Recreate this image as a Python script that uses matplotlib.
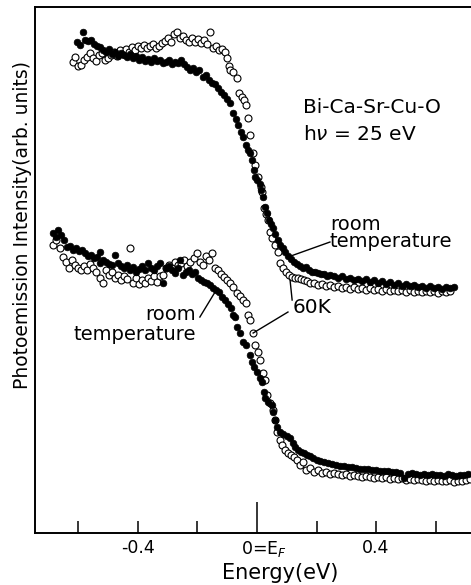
import matplotlib
matplotlib.use('Agg')
import matplotlib.pyplot as plt
from matplotlib.transforms import ScaledTranslation

# energies in eV, intensity in arbitrary units
rt_hi_E = [-0.605, -0.595, -0.585, -0.578, -0.568, -0.558, -0.548, -0.538, -0.528, -0.517,
           -0.507, -0.497, -0.487, -0.477, -0.467, -0.457, -0.447, -0.437, -0.427, -0.417,
           -0.407, -0.396, -0.386, -0.376, -0.366, -0.356, -0.346, -0.336, -0.326, -0.316,
           -0.306, -0.296, -0.286, -0.276, -0.265, -0.255, -0.245, -0.235, -0.225, -0.215,
           -0.205, -0.195, -0.181, -0.171, -0.161, -0.151, -0.141, -0.131, -0.121, -0.111,
           -0.101, -0.091, -0.081, -0.071, -0.064, -0.054, -0.047, -0.037, -0.030, -0.024,
           -0.017, -0.010, -0.007, 0.000, 0.010, 0.013, 0.020, 0.027, 0.034, 0.040,
           0.047, 0.054, 0.060, 0.071, 0.077, 0.087, 0.094, 0.104, 0.114, 0.124,
           0.134, 0.144, 0.155, 0.165, 0.175, 0.185, 0.195, 0.205, 0.215, 0.225,
           0.235, 0.245,
           0.259, 0.272, 0.286, 0.299, 0.312, 0.326, 0.339, 0.353, 0.366, 0.380,
           0.393, 0.407, 0.420, 0.433, 0.447, 0.460, 0.474, 0.487, 0.501, 0.514,
           0.528, 0.541, 0.554, 0.568, 0.581, 0.595, 0.608, 0.622, 0.635, 0.648, 0.662]
rt_hi_I = [98.2, 97.6, 100.2, 98.6, 98.4, 98.6, 97.8, 97.4, 97.2, 96.6,
           96.2, 96.8, 95.8, 96.2, 95.4, 96.0, 95.6, 95.2, 95.8, 95.0,
           95.4, 94.6, 95.2, 94.4, 94.8, 94.2, 95.0, 94.4, 94.6, 94.0,
           94.2, 94.6, 93.8, 94.2, 94.0, 94.6, 93.8, 93.2, 92.6, 93.0,
           92.2, 92.6, 91.2, 91.6, 90.6, 90.0, 89.8, 89.0, 88.2, 87.6,
           86.8, 86.0, 84.0, 82.8, 81.6, 80.2, 79.2, 77.6, 76.6, 76.0,
           74.6, 72.6, 71.2, 70.6, 69.8, 68.6, 67.2, 65.2, 64.0, 62.6,
           61.8, 61.0, 59.8, 58.6, 57.6, 57.0, 56.2, 55.4, 54.8, 54.2,
           53.8, 53.4, 53.0, 53.2, 52.6, 52.2, 52.2, 52.0, 51.8, 51.8,
           51.4, 51.6,
           51.4, 51.0, 51.4, 50.8, 51.0, 50.6, 50.9, 50.4, 50.8, 50.3,
           50.6, 50.0, 50.4, 49.9, 50.2, 49.7, 50.1, 49.5, 49.9, 49.4,
           49.7, 49.2, 49.5, 49.0, 49.4, 49.1, 49.3, 48.9, 49.2, 49.0, 49.3]

k60_hi_E = [-0.618, -0.612, -0.601, -0.591, -0.581, -0.571, -0.561, -0.551, -0.541, -0.531,
            -0.521, -0.511, -0.501, -0.491, -0.480, -0.470, -0.460, -0.450, -0.440, -0.430,
            -0.420, -0.410, -0.400, -0.390, -0.380, -0.370, -0.360, -0.349, -0.339, -0.329,
            -0.319, -0.309, -0.299, -0.289, -0.279, -0.269, -0.259, -0.249, -0.239, -0.228,
            -0.218, -0.208, -0.198, -0.188, -0.178, -0.168, -0.158, -0.148, -0.138, -0.128,
            -0.118, -0.108, -0.101, -0.094, -0.091, -0.081, -0.067, -0.060, -0.050, -0.044,
            -0.037, -0.030, -0.024, -0.013, -0.007, 0.003, 0.013, 0.017, 0.024, 0.030,
            0.037, 0.044, 0.050, 0.060, 0.071, 0.077, 0.087, 0.097, 0.108, 0.118,
            0.128, 0.138, 0.148, 0.158, 0.168, 0.178,
            0.192, 0.205, 0.218, 0.232, 0.245, 0.259, 0.272, 0.286, 0.299, 0.312,
            0.326, 0.339, 0.353, 0.366, 0.380, 0.393, 0.407, 0.420, 0.433, 0.447,
            0.460, 0.474, 0.487, 0.501, 0.514, 0.528, 0.541, 0.554, 0.568, 0.581,
            0.595, 0.608, 0.622, 0.635, 0.648]
k60_hi_I = [94.2, 95.2, 93.4, 93.6, 94.6, 95.2, 96.0, 95.0, 94.4, 95.6,
            96.0, 94.6, 95.0, 95.6, 96.2, 95.4, 96.6, 95.8, 96.8, 96.2,
            97.2, 96.6, 97.4, 97.0, 97.6, 97.0, 97.4, 97.8, 97.0, 97.4,
            98.0, 98.4, 99.0, 98.2, 99.8, 100.2, 99.0, 99.4, 98.6, 98.2,
            99.0, 98.2, 98.8, 98.0, 98.6, 97.8, 100.2, 97.0, 97.4, 96.6,
            96.8, 96.2, 95.0, 93.4, 92.6, 92.2, 91.0, 88.0, 87.2, 86.6,
            85.6, 83.0, 79.6, 76.0, 73.6, 71.2, 69.2, 68.2, 65.0, 63.8,
            62.6, 60.2, 59.0, 57.6, 56.2, 54.0, 53.0, 52.2, 51.6, 51.2,
            51.0, 51.0, 50.8, 50.6, 50.4, 50.0,
            50.0, 49.6, 49.9, 49.4, 49.7, 49.2, 49.5, 49.0, 49.3, 48.9,
            49.2, 48.8, 49.1, 48.7, 49.0, 48.6, 48.9, 48.5, 48.8, 48.4,
            48.7, 48.4, 48.6, 48.2, 48.6, 48.3, 48.5, 48.2, 48.5, 48.3,
            48.4, 48.1, 48.5, 48.3, 48.4]

rt_lo_E = [-0.685, -0.675, -0.669, -0.659, -0.648, -0.638, -0.628, -0.618, -0.608, -0.598,
           -0.588, -0.578, -0.568, -0.558, -0.548, -0.538, -0.528, -0.528, -0.517, -0.507,
           -0.497, -0.487, -0.477, -0.467, -0.457, -0.447, -0.437, -0.427, -0.417, -0.407,
           -0.396, -0.386, -0.376, -0.366, -0.356, -0.346, -0.336, -0.326, -0.316, -0.306,
           -0.296, -0.286, -0.276, -0.265, -0.259, -0.249, -0.239, -0.228, -0.218, -0.208,
           -0.198, -0.188, -0.178, -0.168, -0.158, -0.148, -0.138, -0.128, -0.118, -0.108,
           -0.097, -0.087, -0.081, -0.074, -0.067, -0.057, -0.047, -0.037, -0.024, -0.017,
           -0.010, 0.000, 0.010, 0.017, 0.024, 0.027, 0.037, 0.050, 0.054, 0.060,
           0.067, 0.077, 0.087, 0.101, 0.111, 0.121, 0.128, 0.138, 0.148, 0.158,
           0.168, 0.178, 0.188, 0.202, 0.212,
           0.225, 0.239, 0.252, 0.265, 0.279, 0.292, 0.306, 0.319, 0.333, 0.346,
           0.360, 0.373, 0.386, 0.400, 0.413, 0.427, 0.440, 0.454, 0.467, 0.481,
           0.494, 0.507, 0.521, 0.534, 0.548, 0.561, 0.575, 0.588, 0.601, 0.615,
           0.628, 0.642, 0.655, 0.669, 0.682, 0.696, 0.709]
rt_lo_I = [60.0, 59.2, 60.6, 59.6, 58.6, 57.2, 57.4, 56.6, 57.0, 56.4,
           56.6, 56.0, 55.4, 55.6, 55.0, 55.2, 56.2, 54.0, 54.6, 54.2,
           53.8, 53.6, 55.6, 54.0, 53.4, 53.0, 53.6, 52.6, 53.2, 52.2,
           52.8, 53.4, 52.6, 54.0, 53.0, 52.6, 53.4, 54.0, 50.0, 53.0,
           53.4, 52.6, 52.0, 53.0, 54.6, 51.6, 52.2, 52.6, 51.8, 52.2,
           51.0, 50.6, 50.2, 50.0, 49.6, 49.0, 48.6, 48.2, 47.2, 46.6,
           45.8, 45.0, 43.6, 43.2, 41.2, 40.0, 38.2, 37.6, 35.6, 34.2,
           33.2, 32.2, 31.0, 30.2, 28.2, 27.0, 26.2, 25.6, 24.2, 22.6,
           21.2, 20.2, 19.8, 19.4, 19.0, 18.0, 17.2, 16.6, 16.2, 16.0,
           15.6, 15.4, 15.0, 14.6, 14.4,
           14.2, 14.0, 13.8, 13.6, 13.4, 13.5, 13.2, 13.3, 13.0, 12.8,
           12.9, 12.8, 12.6, 12.7, 12.4, 12.5, 12.4, 12.2, 12.3, 12.0,
           11.0, 11.8, 12.0, 11.8, 11.7, 11.9, 11.6, 11.8, 11.6, 11.7,
           11.5, 11.8, 11.6, 11.5, 11.7, 11.6, 11.8]

k60_lo_E = [-0.685, -0.675, -0.662, -0.652, -0.642, -0.632, -0.622, -0.612, -0.601, -0.591,
            -0.581, -0.571, -0.561, -0.551, -0.541, -0.528, -0.517, -0.507, -0.497, -0.487,
            -0.477, -0.467, -0.457, -0.447, -0.437, -0.427, -0.417, -0.407, -0.396, -0.386,
            -0.376, -0.366, -0.356, -0.346, -0.336, -0.326, -0.316, -0.306, -0.296, -0.286,
            -0.276, -0.265, -0.255, -0.245, -0.235, -0.225, -0.212, -0.202, -0.192, -0.181,
            -0.171, -0.161, -0.151, -0.141, -0.131, -0.121, -0.111, -0.101, -0.091, -0.081,
            -0.067, -0.057, -0.047, -0.037, -0.030, -0.024, -0.013, -0.007, 0.003, 0.010,
            0.020, 0.027, 0.034, 0.044, 0.054, 0.060, 0.067, 0.077, 0.084, 0.094,
            0.104, 0.114, 0.124, 0.134, 0.144, 0.155, 0.165,
            0.178, 0.192, 0.205, 0.218, 0.232, 0.245, 0.259, 0.272, 0.286, 0.299,
            0.312, 0.326, 0.339, 0.353, 0.366, 0.380, 0.393, 0.407, 0.420, 0.433,
            0.447, 0.460, 0.474, 0.487, 0.501, 0.514, 0.528, 0.541, 0.554, 0.568,
            0.581, 0.595, 0.608, 0.622, 0.635, 0.648, 0.662, 0.675, 0.689, 0.703, 0.716]
k60_lo_I = [57.6, 58.6, 57.0, 55.2, 54.2, 53.0, 54.6, 53.6, 53.0, 52.6,
            53.4, 52.6, 53.8, 53.0, 52.2, 51.0, 50.0, 52.6, 51.6, 52.2,
            51.0, 51.6, 50.6, 51.4, 50.8, 57.0, 50.0, 51.0, 49.8, 50.6,
            50.0, 51.0, 50.4, 51.4, 50.2, 51.4, 51.6, 53.0, 53.6, 53.0,
            54.2, 53.6, 54.0, 54.6, 53.4, 54.2, 55.0, 56.0, 54.2, 53.6,
            55.4, 54.6, 56.0, 53.0, 52.6, 51.8, 51.2, 50.6, 50.0, 49.2,
            48.0, 47.4, 46.6, 46.0, 43.6, 42.6, 40.0, 37.6, 36.2, 34.6,
            32.0, 30.6, 27.6, 26.0, 24.6, 22.6, 20.2, 18.6, 17.6, 16.6,
            16.0, 15.6, 15.2, 14.6, 13.6, 14.2, 12.6,
            13.0, 12.2, 12.6, 12.0, 12.2, 11.8, 12.0, 11.8, 11.6, 11.8,
            11.4, 11.6, 11.4, 11.2, 11.4, 11.2, 11.0, 11.2, 11.0, 11.2,
            10.8, 11.0, 10.8, 11.0, 10.6, 10.8, 10.6, 10.8, 10.6, 10.4,
            10.6, 10.4, 10.6, 10.4, 10.4, 10.6, 10.2, 10.4, 10.4, 10.6, 10.8]

tick_pos = [-0.6, -0.4, -0.2, 0.2, 0.4, 0.6]
tick_lab = ['', '-0.4', '', '', '0.4', '']

plt.rcParams['font.family'] = ['DejaVu Sans']
fig = plt.figure(figsize=(4.71, 5.85), dpi=100)
ax = fig.add_axes([0.0743, 0.0889, 0.9257, 0.899])

open_kw = dict(ls='none', marker='o', ms=5.0, mfc='white', mec='black', mew=0.8)
fill_kw = dict(ls='none', marker='o', ms=4.8, mfc='black', mec='black', mew=0.5)
ax.plot(k60_hi_E, k60_hi_I, **open_kw)
ax.plot(k60_lo_E, k60_lo_I, **open_kw)
ax.plot(rt_hi_E, rt_hi_I, **fill_kw)
ax.plot(rt_lo_E, rt_lo_I, **fill_kw)

ax.set_xlim(-0.746, 0.719)
ax.set_ylim(0, 105.2)

for s in ['left', 'bottom', 'top']:
    ax.spines[s].set_linewidth(1.4)
ax.spines['right'].set_visible(False)

ax.set_yticks([])
ax.set_xticks([0.0], ['0=E$_F$'])
ax.set_xticks(tick_pos, tick_lab, minor=True)
ax.tick_params(axis='x', which='major', direction='in', length=22, width=1.1,
               labelsize=12.5, pad=4)
ax.tick_params(axis='x', which='minor', direction='in', length=8.6, width=1.1,
               labelsize=12.5, pad=4)
for lab in ax.get_xticklabels():
    lab.set_transform(lab.get_transform() + ScaledTranslation(0.07, 0, fig.dpi_scale_trans))

ax.set_xlabel('Energy(eV)', fontsize=15)
ax.xaxis.set_label_coords(0.562, -0.058)
ax.set_ylabel('Photoemission Intensity(arb. units)', fontsize=13.5)
ax.yaxis.set_label_coords(-0.007, 0.586)

ax.text(0.155, 84.0, 'Bi-Ca-Sr-Cu-O', fontsize=14.5, ha='left', va='baseline')
ax.text(0.155, 78.6, r'h$\nu$ = 25 eV', fontsize=14.5, ha='left', va='baseline')

# right label, leader to the room temperature upper curve
ax.text(0.245, 57.2, 'room\ntemperature', fontsize=14, ha='left', va='baseline',
        linespacing=0.85)
ax.plot([0.104, 0.245], [55.2, 58.2], color='black', lw=1)

ax.text(0.121, 45.2, '60K', fontsize=14.5, ha='left', va='center')
ax.plot([-0.013, 0.104], [40.0, 44.2], color='black', lw=1)
ax.plot([0.118, 0.111], [46.6, 50.6], color='black', lw=1)

# left label
ax.text(-0.205, 38.6, 'room\ntemperature', fontsize=14, ha='right', va='baseline',
        multialignment='right', linespacing=1.05)
ax.plot([-0.192, -0.141], [43.2, 48.2], color='black', lw=1)

fig.savefig('out.png', dpi=100)
